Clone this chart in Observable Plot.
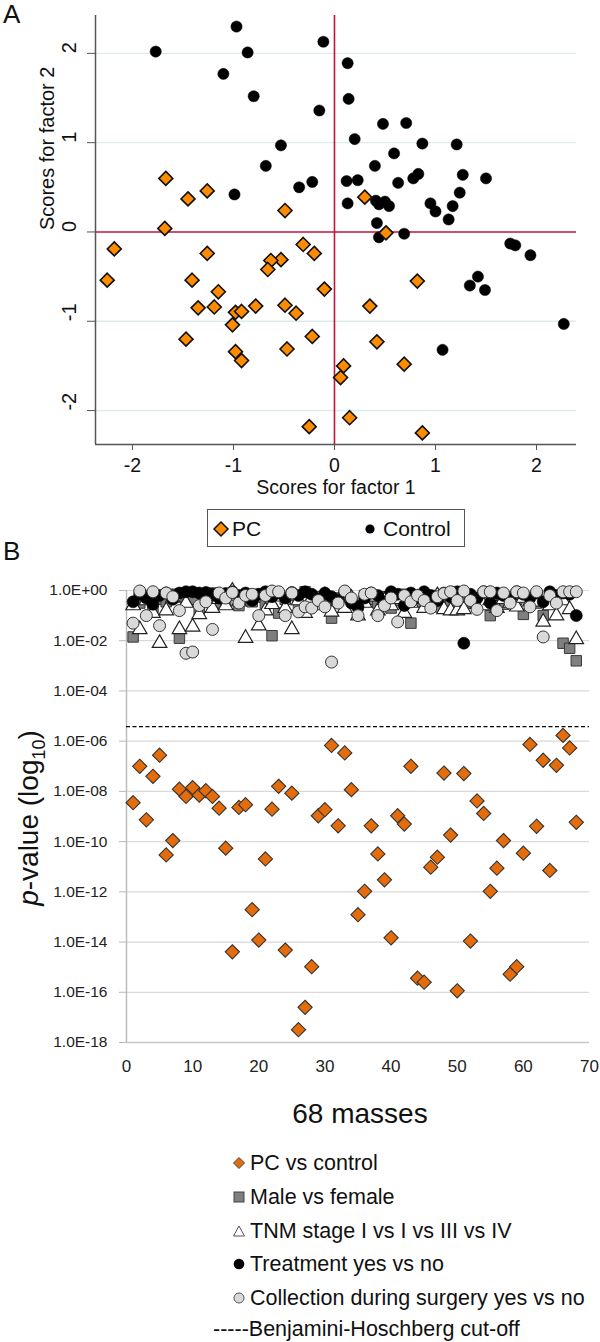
<!DOCTYPE html>
<html><head><meta charset="utf-8">
<script src="https://cdn.jsdelivr.net/npm/d3@7"></script>
<script src="https://cdn.jsdelivr.net/npm/@observablehq/plot@0.6"></script>
<style>
body{margin:0;background:#fff;font-family:"Liberation Sans",Arial,sans-serif;color:#111;}
#wrap{position:relative;width:600px;height:1342px;overflow:hidden;background:#fff;}
</style></head><body><div id="wrap"></div>
<script>
// ---------- Panel A data ----------
const pcAx = [-1.67,-1.45,-1.26,-0.49,-1.68,0.30,0.51,-0.31,-0.20,-0.53,-0.10,-0.49,-0.38,0.82,0.35,-0.22,-0.47,0.42,0.69,0.09,0.06,0.15,-0.25,0.87,-2.18,-2.25,-1.26,-1.41,-1.35,-1.19,-1.15,-1.47,-1.01,-0.98,-0.92,-0.78,-0.98,-0.92,-0.63,-0.66];
const pcAy = [0.60,0.37,0.46,0.24,0.04,0.39,-0.01,-0.14,-0.24,-0.31,-0.64,-0.82,-0.91,-0.55,-0.83,-1.17,-1.31,-1.23,-1.48,-1.50,-1.63,-2.08,-2.18,-2.25,-0.19,-0.54,-0.24,-0.54,-0.85,-0.84,-0.67,-1.20,-1.04,-0.90,-0.89,-0.83,-1.34,-1.44,-0.32,-0.42];
const ctrlAx = [-1.77,-0.97,-0.86,-1.10,-0.80,-0.53,-0.68,-0.99,-0.35,-0.11,0.13,0.14,-0.15,0.20,0.48,0.71,0.87,1.21,0.59,0.40,0.83,0.78,0.63,1.27,1.50,1.24,0.12,0.23,-0.22,0.13,0.41,0.44,0.50,0.54,0.95,1.00,1.17,1.13,0.42,0.69,0.44,1.74,1.79,1.94,1.42,1.34,1.49,2.27,1.07];
const ctrlAy = [2.02,2.30,2.01,1.77,1.52,0.97,0.74,0.42,0.50,2.13,1.89,1.49,1.36,1.04,1.21,1.22,0.99,0.98,0.88,0.74,0.65,0.60,0.55,0.64,0.60,0.44,0.57,0.58,0.56,0.32,0.35,0.31,0.34,0.29,0.32,0.23,0.29,0.14,0.10,-0.02,-0.06,-0.13,-0.15,-0.26,-0.50,-0.60,-0.65,-1.03,-1.32];
const aTicks = [-2,-1,0,1,2];
const aGrid = [-2,-1,1,2];
const aXDomain = [-2.366, 2.396];
const aYDomain = [-2.38, 2.424];

// ---------- Panel B data (log10 p-values) ----------
const masses = Array.from({length: 68}, (_, i) => i + 1);
const pcVsControl = [-8.45,-7.0,-9.13,-7.4,-6.56,-10.53,-9.96,-7.91,-8.2,-7.85,-8.15,-7.97,-8.2,-8.67,-10.26,-14.39,-8.64,-8.53,-12.71,-13.92,-10.69,-8.71,-7.8,-14.32,-8.07,-17.49,-16.6,-14.98,-8.97,-8.73,-6.17,-9.37,-6.47,-7.93,-12.91,-11.98,-9.37,-10.49,-11.52,-13.83,-8.97,-9.30,-7.0,-15.44,-15.6,-11.02,-10.62,-7.27,-9.74,-15.94,-7.29,-13.96,-8.38,-8.88,-11.98,-11.06,-9.96,-15.28,-14.98,-10.46,-6.13,-9.39,-6.76,-11.15,-6.96,-5.77,-6.27,-9.23];
const maleVsFemale = [-1.85,-0.5,-0.2,-0.7,-0.35,-0.45,-0.15,-1.9,-0.3,-0.35,-0.9,-0.25,-0.1,-0.5,-0.4,-0.2,-0.6,-0.3,-0.45,-0.15,-0.55,-1.8,-0.9,-0.35,-0.2,-0.6,-0.05,-0.4,-0.25,-0.5,-1.1,-0.3,-0.15,-0.45,-0.6,-0.2,-0.35,-0.5,-0.25,-0.7,-0.4,-0.15,-1.3,-0.3,-0.5,-0.2,-0.65,-0.35,-0.45,-0.25,-0.5,-0.3,-0.6,-0.2,-1.0,-0.4,-0.55,-0.25,-0.35,-0.95,-0.3,-0.5,-1.0,-0.4,-0.25,-2.1,-2.3,-2.8];
const tnmStage = [-0.6,-1.55,-0.4,-0.9,-2.1,-0.8,-0.3,-1.55,-0.5,-1.45,-0.95,-0.2,-0.7,-0.35,-0.6,-0.02,-0.45,-1.9,-0.3,-1.4,-0.8,-0.55,-0.25,-0.7,-1.55,-0.4,-0.9,-0.3,-0.6,-0.2,-0.85,-0.45,-0.7,-0.3,-1.0,-0.5,-0.25,-0.8,-0.4,-0.6,-0.35,-0.9,-0.5,-0.3,-0.7,-0.45,-0.2,-0.75,-0.8,-0.8,-0.75,-0.3,-0.55,-0.6,-0.4,-0.7,-0.35,-0.5,-0.65,-0.3,-0.45,-0.45,-1.25,-0.6,-1.0,-0.4,-0.75,-1.95];
const treatment = [-0.45,-0.15,-0.3,-0.55,-0.2,-0.1,-0.35,-0.1,-0.05,-0.05,-0.1,-0.08,-0.15,-0.3,-0.12,-0.05,-0.2,-0.1,-0.4,-0.15,-0.05,-0.25,-0.1,-0.3,-0.08,-0.2,-0.05,-0.15,-0.35,-0.1,-0.25,-0.4,-0.05,-0.5,-0.65,-0.3,-0.1,-0.2,-0.45,-0.05,-0.15,-0.6,-0.1,-0.3,-0.05,-0.2,-0.4,-0.1,-0.25,-0.05,-2.1,-0.15,-0.3,-0.05,-0.5,-0.1,-0.2,-0.35,-0.05,-0.15,-0.3,-0.1,-0.45,-0.05,-0.2,-0.1,-0.15,-1.0];
const collection = [-1.3,-0.02,-1.0,-0.05,-1.4,-0.1,-0.25,-0.8,-2.5,-2.45,-0.6,-0.45,-1.55,-0.1,-0.3,-0.08,-0.5,-0.2,-0.15,-1.0,-0.2,-0.02,-0.05,-1.0,-0.1,-0.85,-0.65,-0.7,-0.4,-0.65,-2.85,-0.5,-0.02,-0.3,-1.0,-0.15,-0.1,-1.0,-0.6,-0.3,-1.25,-0.2,-0.45,-0.2,-0.4,-0.7,-0.25,-0.12,-0.05,-0.4,-0.02,-0.4,-0.75,-0.05,-0.05,-0.8,-0.1,-0.5,-0.05,-0.1,-0.65,-0.05,-1.85,-0.2,-0.5,-0.05,-0.05,-0.05];
const bhCutoff = -5.42;
const bYTicks = [0,-2,-4,-6,-8,-10,-12,-14,-16,-18];
const bGrid = [0,-2,-4,-6,-8,-10,-12,-14,-16];
const bXTicks = [0,10,20,30,40,50,60,70];
const legendB = ["PC vs control","Male vs female","TNM stage I vs I vs III vs IV","Treatment yes vs no","Collection during surgery yes vs no"];

const FONT = '"Liberation Sans", Arial, sans-serif';
const wrap = document.getElementById("wrap");
function place(el, css) { el.style.position = "absolute"; Object.assign(el.style, css); wrap.appendChild(el); return el; }
function textDiv(html, css) { const d = document.createElement("div"); d.innerHTML = html; d.style.whiteSpace = "nowrap"; return place(d, css); }

// ---------- Panel A ----------
const plotA = Plot.plot({
  width: 600, height: 505,
  marginLeft: 95, marginRight: 24, marginTop: 15, marginBottom: 61,
  x: {domain: aXDomain},
  y: {domain: aYDomain},
  style: {fontFamily: FONT, fontSize: "20px", color: "#111", background: "transparent", overflow: "visible"},
  marks: [
    Plot.ruleY(aGrid, {stroke: "#dcecec", strokeWidth: 1.4}),
    Plot.ruleX([0], {stroke: "#c4123c", strokeWidth: 1.6}),
    Plot.ruleY([0], {stroke: "#c4123c", strokeWidth: 1.6}),
    Plot.ruleX([aXDomain[0]], {stroke: "#555", strokeWidth: 1.5}),
    Plot.ruleY([aYDomain[0]], {stroke: "#555", strokeWidth: 1.5}),
    Plot.axisY({ticks: aTicks, tickSize: 8, tickFormat: () => "", stroke: "#555", label: null}),
    Plot.axisX({ticks: aTicks, tickSize: 6, tickPadding: 8, fontSize: 19.5, tickFormat: d => String(d), stroke: "#555", label: null}),
    Plot.text(aTicks, {y: d => d, frameAnchor: "left", dx: -26, rotate: -90, text: d => String(d), fontSize: 20}),
    Plot.text(["Scores for factor 2"], {frameAnchor: "left", dx: -48, rotate: -90, fontSize: 20}),
    Plot.text(["Scores for factor 1"], {frameAnchor: "bottom", dy: 49, fontSize: 19.5}),
    Plot.dot(ctrlAx, {x: ctrlAx, y: ctrlAy, r: 5.6, fill: "#000", stroke: "#000", strokeWidth: 0.5}),
    Plot.dot(pcAx, {x: pcAx, y: pcAy, symbol: "diamond2", r: 6.3, fill: "#ff8c00", stroke: "#111", strokeWidth: 1.6})
  ]
});
place(plotA, {left: "0px", top: "0px"});
textDiv("A", {left: "3px", top: "0px", fontSize: "26px", lineHeight: "28px", fontFamily: FONT});

// Legend A
const legA = document.createElement("div");
legA.innerHTML = `<svg width="258" height="38" style="position:absolute;left:0;top:0">
  <path d="M13,12 L20,19 L13,26 L6,19 Z" fill="#ff8c00" stroke="#111" stroke-width="1.5"/>
  <circle cx="162" cy="19" r="4.6" fill="#000"/></svg>
  <div style="position:absolute;left:24px;top:0;line-height:37px;font-size:21px">PC</div>
  <div style="position:absolute;left:175px;top:0;line-height:37px;font-size:21px">Control</div>`;
place(legA, {left: "207px", top: "509px", width: "256px", height: "36px", border: "1.3px solid #555", fontFamily: FONT});

// ---------- Panel B ----------
const fmtE = d => "1.0E" + (d === 0 ? "+00" : "-" + String(-d).padStart(2, "0"));
const plotB = Plot.plot({
  width: 600, height: 522,
  marginLeft: 126, marginRight: 11, marginTop: 30, marginBottom: 40,
  x: {domain: [0, 70]},
  y: {domain: [-18, 0]},
  style: {fontFamily: FONT, fontSize: "16px", color: "#222", background: "transparent", overflow: "visible"},
  marks: [
    Plot.ruleY(bGrid, {stroke: "#d9d9d9", strokeWidth: 1.2}),
    Plot.ruleY([-18], {stroke: "#c8c8c8", strokeWidth: 1.4}),
    Plot.ruleX([0], {stroke: "#b8b8b8", strokeWidth: 1.4}),
    Plot.axisY({ticks: bYTicks, tickSize: 7, tickPadding: 12, tickFormat: fmtE, fontSize: 15.5, stroke: "#b8b8b8", label: null}),
    Plot.axisX({ticks: bXTicks, tickSize: 0, tickPadding: 17, fontSize: 17, label: null}),
    Plot.ruleY([bhCutoff], {stroke: "#000", strokeWidth: 1.4, strokeDasharray: "4,2.5"}),
    Plot.dot(masses, {x: masses, y: pcVsControl, symbol: "diamond2", r: 6.4, fill: "#e46c0a", stroke: "#333", strokeWidth: 1.1}),
    Plot.dot(masses, {x: masses, y: maleVsFemale, symbol: "square", r: 5.9, fill: "#7f7f7f", stroke: "#3a3a3a", strokeWidth: 1}),
    Plot.dot(masses, {x: masses, y: tnmStage, symbol: "triangle", r: 5.4, fill: "#fff", stroke: "#222", strokeWidth: 1.2}),
    Plot.dot(masses, {x: masses, y: treatment, r: 6, fill: "#000", stroke: "#000", strokeWidth: 0.6}),
    Plot.dot(masses, {x: masses, y: collection, r: 6, fill: "#d9d9d9", stroke: "#333", strokeWidth: 1})
  ]
});
place(plotB, {left: "0px", top: "560px"});
textDiv("B", {left: "3px", top: "537px", fontSize: "26px", lineHeight: "28px", fontFamily: FONT});
textDiv('<i>p</i>-value (log<sub style="font-size:18px;line-height:0">10</sub>)', {left: "29px", top: "818px", transform: "translate(-50%,-50%) rotate(-90deg)", fontSize: "28px", fontFamily: FONT, lineHeight: "32px"});
textDiv("68 masses", {left: "360px", top: "1114px", transform: "translate(-50%,-50%)", fontSize: "28px", lineHeight: "32px", fontFamily: FONT});

// Legend B
const markerSvgs = [
  '<path d="M7,1.5 L12.5,7 L7,12.5 L1.5,7 Z" fill="#e46c0a" stroke="#444" stroke-width="1"/>',
  '<rect x="2" y="2" width="10" height="10" fill="#7f7f7f" stroke="#444" stroke-width="1"/>',
  '<path d="M7,2 L12.5,12 L1.5,12 Z" fill="#fff" stroke="#555" stroke-width="1"/>',
  '<circle cx="7" cy="7" r="5.3" fill="#000"/>',
  '<circle cx="7" cy="7" r="5" fill="#d9d9d9" stroke="#555" stroke-width="1"/>'
];
const rowY = [1163, 1197, 1231, 1264, 1298];
legendB.forEach((lab, i) => {
  const s = document.createElement("div");
  s.innerHTML = `<svg width="14" height="14">${markerSvgs[i]}</svg>`;
  place(s, {left: "232px", top: (rowY[i] - 7) + "px", width: "14px", height: "14px", lineHeight: "0"});
  textDiv(lab, {left: "250px", top: (rowY[i] - 16) + "px", lineHeight: "32px", fontSize: "21.5px", fontFamily: FONT});
});
textDiv("-----Benjamini-Hoschberg cut-off", {left: "213px", top: (1329 - 16) + "px", lineHeight: "32px", fontSize: "21.5px", fontFamily: FONT});
</script></body></html>
